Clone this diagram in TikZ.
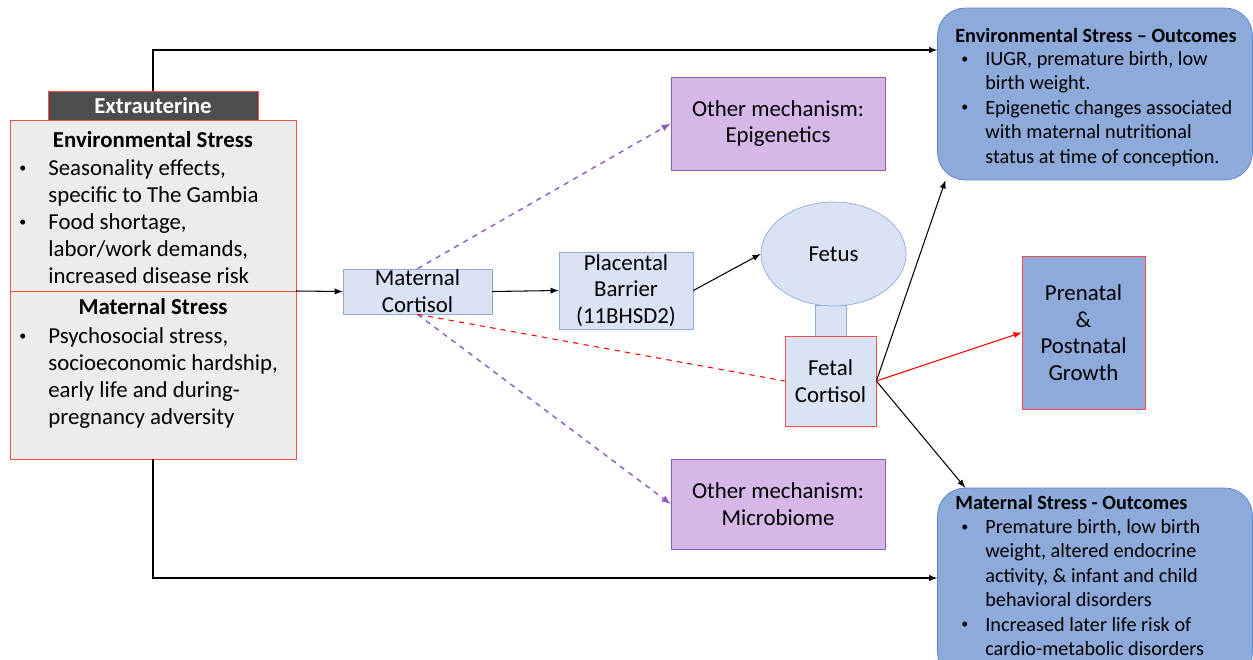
\documentclass[tikz,border=0pt]{standalone}
\usepackage{fontspec}
\setmainfont{Carlito}
\usepackage{xcolor}
\usetikzlibrary{arrows}
\usetikzlibrary{shapes.geometric}

\definecolor{paleblue}{HTML}{DAE3F3}
\definecolor{paleedge}{HTML}{8FAADC}
\definecolor{outfill}{HTML}{8EAADB}
\definecolor{outedge}{HTML}{5F86C9}
\definecolor{lilac}{HTML}{D5B8E8}
\definecolor{lilacedge}{HTML}{8C5CC4}
\definecolor{darkhdr}{HTML}{4D4D4D}
\definecolor{boxred}{HTML}{FF4B4B}
\definecolor{greyfill}{HTML}{ECECEC}

\newcommand{\bodyfont}{\fontsize{13}{15.4}\selectfont}
\newcommand{\midfont}{\fontsize{13}{15.2}\selectfont}
\newcommand{\outfont}{\fontsize{11.5}{13.9}\selectfont}
\newcommand{\bul}{\raisebox{0.12em}{\fontsize{8}{8}\selectfont\textbullet}}

\begin{document}
\begin{tikzpicture}[x=0.02cm,y=-0.02cm,
  cortbox/.style={draw=paleedge,fill=paleblue,align=center,font=\midfont,inner sep=0pt},
  mechbox/.style={draw=lilacedge,fill=lilac,align=center,font=\midfont,inner sep=0pt,
    minimum width=4.28cm},
  outbox/.style={draw=outedge,fill=outfill,rounded corners=0.55cm,minimum width=6.3cm},
  listtxt/.style={anchor=north west,inner sep=0pt,align=left},
  ttl/.style={inner sep=0pt,font=\bfseries\bodyfont},
  arr/.style={-latex,black,semithick},
  mech/.style={-latex,dashed,lilacedge,thick}]
\useasboundingbox (0,0) rectangle (1253,659);
\clip (0,0) rectangle (1253,659);

% left side
\node[draw=boxred,fill=greyfill,minimum width=5.72cm,minimum height=6.78cm] (stress) at (153,289.5) {};
\node[draw=boxred,fill=darkhdr,text=white,font=\bfseries\bodyfont,minimum width=4.2cm,
  minimum height=0.58cm,inner sep=0pt] (hdr) at (153,105.5) {Extrauterine};
\coordinate (divR) at (296,291);
\draw[boxred] (stress.west |- divR) -- (divR);

\node[ttl] (envttl) at (153,140) {Environmental Stress};
\node[listtxt,font=\bodyfont] (envlist) at (19,156) {%
  \begin{tabular}{@{}p{0.58cm}@{}l@{}}
  \bul & Seasonality effects,\\
   & specific to The Gambia\\
  \bul & Food shortage,\\
   & labor/work demands,\\
   & increased disease risk
  \end{tabular}};
\node[ttl] (matttl) at (153,307) {Maternal Stress};
\node[listtxt,font=\bodyfont] (matlist) at (19,324) {%
  \begin{tabular}{@{}p{0.58cm}@{}l@{}}
  \bul & Psychosocial stress,\\
   & socioeconomic hardship,\\
   & early life and during-\\
   & pregnancy adversity
  \end{tabular}};

% middle
\node[cortbox,minimum width=2.98cm,minimum height=0.9cm] (mcort) at (417.5,291.5) {Maternal\\Cortisol};
\node[cortbox,minimum width=2.68cm,minimum height=1.54cm] (placenta) at (626,290.5) {Placental\\Barrier\\(11BHSD2)};
\node[cortbox,minimum width=0.62cm,minimum height=0.64cm] (stalk) at (830.5,321.5) {};
\node[cortbox,ellipse,minimum width=2.9cm,minimum height=2.08cm] (fetus) at (833.5,254) {Fetus};
\node[cortbox,draw=boxred,minimum width=1.82cm,minimum height=1.8cm] (fcort) at (830.5,381) {Fetal\\Cortisol};

\node[mechbox,minimum height=1.86cm] (epi) at (778,123.5) {Other mechanism:\\Epigenetics};
\node[mechbox,minimum height=1.8cm] (micro) at (778,504) {Other mechanism:\\Microbiome};

% outcomes
\node[outbox,minimum height=3.44cm] (envout) at (1095,94) {};
\node[anchor=west,inner sep=0pt,font=\bfseries\outfont] (envoutttl) at (955,35) {Environmental Stress -- Outcomes};
\node[listtxt,font=\outfont] (envoutlist) at (961,48) {%
  \begin{tabular}{@{}p{0.48cm}@{}l@{}}
  \bul & IUGR, premature birth, low\\
   & birth weight.\\
  \bul & Epigenetic changes associated\\
   & with maternal nutritional\\
   & status at time of conception.
  \end{tabular}};

\node[outbox,minimum height=3.84cm] (matout) at (1095,584) {};
\node[anchor=west,inner sep=0pt,font=\bfseries\outfont] (matoutttl) at (955,502) {Maternal Stress - Outcomes};
\node[listtxt,font=\outfont] (matoutlist) at (961,516) {%
  \begin{tabular}{@{}p{0.48cm}@{}l@{}}
  \bul & Premature birth, low birth\\
   & weight, altered endocrine\\
   & activity, \& infant and child\\
   & behavioral disorders\\
  \bul & Increased later life risk of\\
   & cardio-metabolic disorders
  \end{tabular}};

\node[draw=boxred,fill=outfill,align=center,font=\midfont,minimum width=2.46cm,
  minimum height=3.06cm,inner sep=0pt] (growth) at (1083.5,332.5) {Prenatal\\\&\\Postnatal\\Growth};

% connectors
\coordinate (topbend) at (153,50);
\coordinate (botbend) at (153,578);
\draw[arr] (hdr.north) -- (topbend) -- (topbend -| envout.west);
\draw[arr] (stress.south) -- (botbend) -- (botbend -| matout.west);
\draw[arr] (divR) -- (mcort.west);
\draw[arr] (mcort.east) -- (placenta.west);
\draw[arr] (placenta.east) -- (fetus.west);
\draw[mech] (mcort.north) -- (epi.west);
\draw[mech] (mcort.south) -- (micro.west);
\draw[dashed,red,semithick] (mcort.south) -- (fcort.west);
\draw[arr] (fcort.east) -- (envout.210);
\draw[arr] (fcort.east) -- ([xshift=0.56cm]matout.north west);
\draw[-latex,red,semithick] (fcort.east) -- (growth.west);
\end{tikzpicture}
\end{document}
